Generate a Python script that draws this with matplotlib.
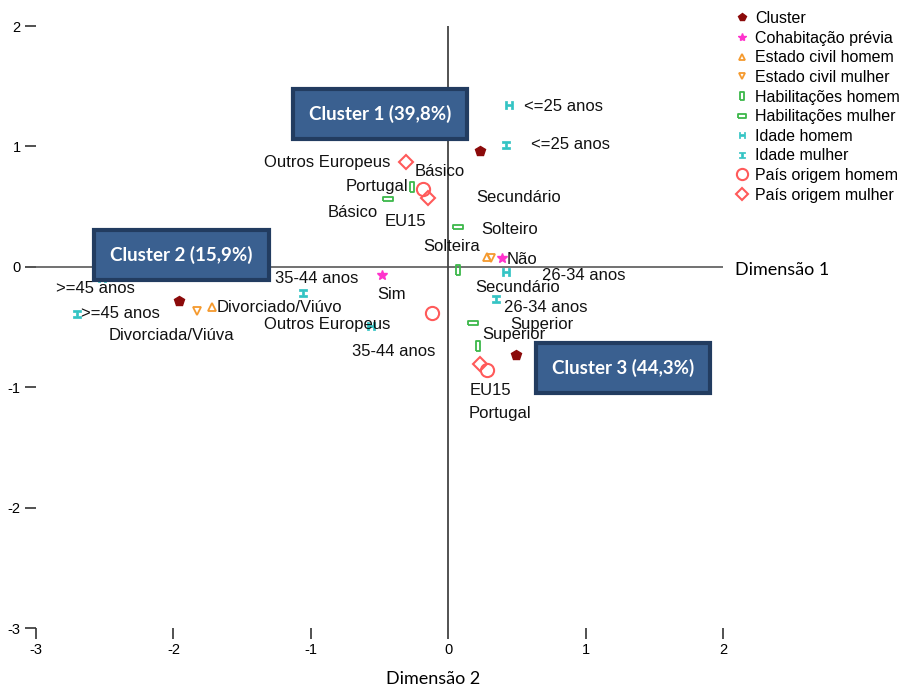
import matplotlib
matplotlib.use("Agg")
import matplotlib.pyplot as plt
from matplotlib.path import Path
from matplotlib.lines import Line2D

plt.rcParams["axes.unicode_minus"] = False

# categorias e coordenadas (Dimensão 1, Dimensão 2)
cluster_x = [0.23, -1.96, 0.49]
cluster_y = [0.96, -0.28, -0.73]

cohab_labels = ["Sim", "Não"]
cohab_x = [-0.48, 0.39]
cohab_y = [-0.07, 0.07]

ech_labels = ["Solteiro", "Divorciado/Viúvo"]
ech_x = [0.28, -1.72]
ech_y = [0.08, -0.33]

ecm_labels = ["Solteira", "Divorciada/Viúva"]
ecm_x = [0.31, -1.83]
ecm_y = [0.07, -0.37]

hh_labels = ["Básico", "Secundário", "Superior"]
hh_x = [-0.26, 0.07, 0.22]
hh_y = [0.66, -0.03, -0.66]

hm_labels = ["Básico", "Secundário", "Superior"]
hm_x = [-0.44, 0.07, 0.18]
hm_y = [0.56, 0.33, -0.47]

ih_labels = ["<=25 anos", "26-34 anos", "35-44 anos", ">=45 anos"]
ih_x = [0.44, 0.42, -0.56, -2.52]
ih_y = [1.34, -0.04, -0.49, -0.09]

im_labels = ["<=25 anos", "26-34 anos", "35-44 anos", ">=45 anos"]
im_x = [0.42, 0.35, -1.06, -2.70]
im_y = [1.01, -0.27, -0.22, -0.39]

ph_labels = ["Portugal", "Outros Europeus", "EU15"]
ph_x = [-0.18, -0.12, 0.28]
ph_y = [0.65, -0.38, -0.86]

pm_labels = ["Outros Europeus", "EU15", "Portugal"]
pm_x = [-0.31, -0.15, 0.23]
pm_y = [0.87, 0.57, -0.81]

cluster_names = ["Cluster 1 (39,8%)", "Cluster 2 (15,9%)", "Cluster 3 (44,3%)"]

# deslocamentos dos rótulos (pixels, y para baixo)
ofs_cohab = [(-5, 19), (5, 1)]
ofs_ech = [(-5, -28), (5, 1)]
ofs_ecm = [(-68, -12), (-88, 24)]
ofs_hh = [(2, -16), (17, 17), (4, -12)]
ofs_hm = [(-60, 13), (18, -30), (37, 1)]
ofs_ih = [(15, 1), (36, 4), (-19, 26), (-46, 11)]
ofs_im = [(25, -1), (8, 8), (-28, -15), (4, 0)]
ofs_ph = [(-78, -2), (-168, 12), (-17, 20)]
ofs_pm = [(-142, 0), (-43, 23), (-11, 49)]
box_pos = [(-0.495, 1.27), (-1.94, 0.10), (1.27, -0.84)]

# marcadores próprios
rect_v = Path([(-0.5, -1), (0.5, -1), (0.5, 1), (-0.5, 1), (-0.5, -1)])
rect_h = Path([(-1, -0.5), (1, -0.5), (1, 0.5), (-1, 0.5), (-1, -0.5)])
ibeam = [(-1, 1), (1, 1), (1, 0.6), (0.35, 0.6), (0.35, -0.6), (1, -0.6),
         (1, -1), (-1, -1), (-1, -0.6), (-0.35, -0.6), (-0.35, 0.6), (-1, 0.6), (-1, 1)]
ibeam_v = Path(ibeam)
ibeam_h = Path([(y, x) for x, y in ibeam])

RED = "#8B0A0A"
MAG = "#FF33CC"
ORA = "#F59A2E"
GRN = "#3CB84A"
CYA = "#33C4C4"
PRED = "#FF5A5A"

series = [
    ("Cluster", cluster_x, cluster_y, None, None,
     dict(marker="p", color=RED, markersize=7, markerfacecolor=RED)),
    ("Cohabitação prévia", cohab_x, cohab_y, cohab_labels, ofs_cohab,
     dict(marker="*", color=MAG, markersize=7, markerfacecolor=MAG)),
    ("Estado civil homem", ech_x, ech_y, ech_labels, ofs_ech,
     dict(marker="^", color=ORA, markersize=5.5, markerfacecolor="none", markeredgewidth=1.3)),
    ("Estado civil mulher", ecm_x, ecm_y, ecm_labels, ofs_ecm,
     dict(marker="v", color=ORA, markersize=5.5, markerfacecolor="none", markeredgewidth=1.3)),
    ("Habilitações homem", hh_x, hh_y, hh_labels, ofs_hh,
     dict(marker=rect_v, color=GRN, markersize=7, markerfacecolor="none", markeredgewidth=1.3)),
    ("Habilitações mulher", hm_x, hm_y, hm_labels, ofs_hm,
     dict(marker=rect_h, color=GRN, markersize=7, markerfacecolor="none", markeredgewidth=1.3)),
    ("Idade homem", ih_x, ih_y, ih_labels, ofs_ih,
     dict(marker=ibeam_h, color=CYA, markersize=5.5, markerfacecolor=CYA, markeredgewidth=0.5)),
    ("Idade mulher", im_x, im_y, im_labels, ofs_im,
     dict(marker=ibeam_v, color=CYA, markersize=5.5, markerfacecolor=CYA, markeredgewidth=0.5)),
    ("País origem homem", ph_x, ph_y, ph_labels, ofs_ph,
     dict(marker="o", color=PRED, markersize=9.5, markerfacecolor="none", markeredgewidth=1.5)),
    ("País origem mulher", pm_x, pm_y, pm_labels, ofs_pm,
     dict(marker="D", color=PRED, markersize=7.5, markerfacecolor="none", markeredgewidth=1.5)),
]

fig = plt.figure(figsize=(9.16, 6.88), dpi=100)
ax = fig.add_axes((36 / 916, 1 - 628 / 688, 687 / 916, 602 / 688))
ax.set_xlim(-3, 2)
ax.set_ylim(-3, 2)
for s in ax.spines.values():
    s.set_visible(False)

ax.axhline(0, color="#666666", lw=1.3, zorder=1)
ax.axvline(0, color="#444444", lw=1.3, zorder=1)

ax.set_xticks([-3, -2, -1, 0, 1, 2])
ax.set_yticks([-3, -2, -1, 0, 1, 2])
ax.tick_params(length=8, width=1.2, color="#333333", labelsize=10.5, pad=3)
for lbl in ax.get_xticklabels() + ax.get_yticklabels():
    lbl.set_family(["Liberation Sans Narrow", "Liberation Sans"])

handles = []
for name, xs, ys, labels, offs, style in series:
    ax.plot(xs, ys, linestyle="none", zorder=3, **style)
    hstyle = dict(style)
    hstyle["markersize"] = style["markersize"] * 0.85
    handles.append(Line2D([], [], linestyle="none", label=name, **hstyle))
    if labels:
        for x, y, t, (dx, dy) in zip(xs, ys, labels, offs):
            ax.annotate(t, (x, y), xytext=(dx, -dy), textcoords="offset pixels",
                        ha="left", va="center", fontsize=12,
                        family="Liberation Sans", color="#111111", zorder=4)

for (bx, by), name in zip(box_pos, cluster_names):
    ax.text(bx, by, name, ha="center", va="center", fontsize=13.5,
            family="Lato", fontweight="bold", color="white", zorder=6,
            bbox=dict(boxstyle="square,pad=0.85", facecolor="#3A6090",
                      edgecolor="#223C60", linewidth=3))

fig.text(433 / 916, 1 - 679 / 688, "Dimensão 2", ha="center", va="center",
         fontsize=13, family="Lato")
fig.text(735 / 916, 1 - 270 / 688, "Dimensão 1", ha="left", va="center",
         fontsize=13, family="Lato")

fig.legend(handles=handles, loc="upper left", bbox_to_anchor=(737 / 916, 1 - 11 / 688),
           frameon=False, handlelength=0.6, handletextpad=0.55, labelspacing=0.29,
           borderaxespad=0, borderpad=0, prop=dict(family="Liberation Sans", size=11.5))

fig.savefig("out.png", dpi=100)
